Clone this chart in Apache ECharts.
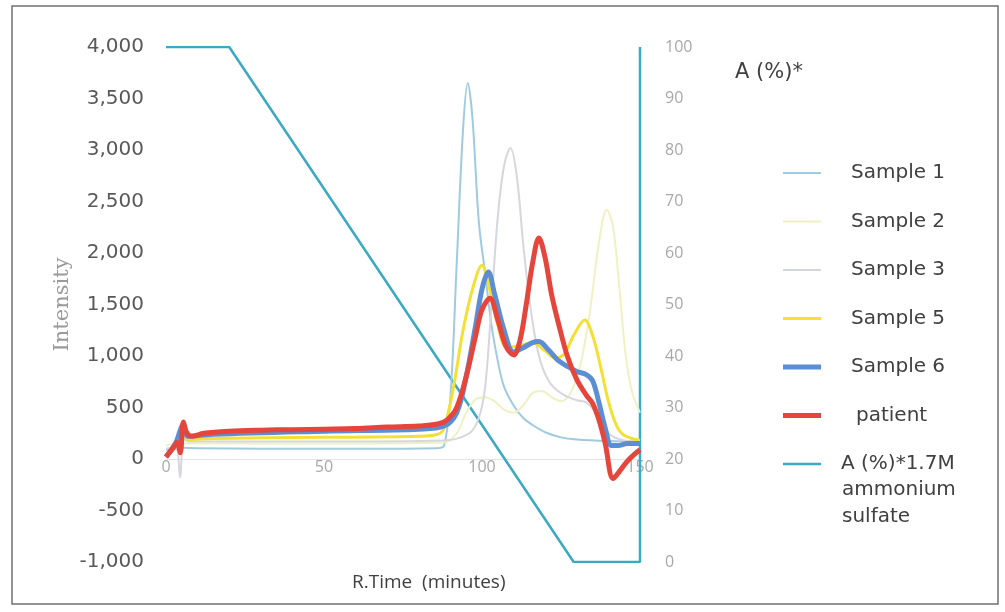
<!DOCTYPE html>
<html><head><meta charset="utf-8">
<script src="https://cdn.jsdelivr.net/npm/echarts@6/dist/echarts.min.js"></script>
<style>html,body{margin:0;padding:0;background:#fff}#c{width:1005px;height:612px}</style>
</head><body><div id="c"></div>
<script>
// ---- data ([time in minutes, value]) ----
const seriesNames = ['Sample 1','Sample 2','Sample 3','Sample 5','Sample 6','patient','A (%)*1.7M ammonium sulfate'];
const yTicksLeft = [-1000, 4000, 500];
const yTicksRight = [0, 100, 10];
const xTicks = [0, 150, 50];

const sample1 = [[0,90],[3,95],[5,110],[10,105],[30,100],[60,100],[86,105],[88,130],[90,600],[92,1900],[94,3200],[95.5,3650],[97,3300],[99,2300],[101,1800],[103,1300],[105,950],[107,700],[110,520],[113,400],[116,330],[120,260],[125,210],[130,190],[140,175],[150,170]];
const sample2 = [[0,130],[5,150],[10,150],[50,150],[88,160],[92,250],[95,450],[98,580],[101,600],[104,560],[107,480],[110,450],[113,520],[116,640],[119,660],[122,600],[125,560],[128,640],[131,900],[134,1400],[137,2100],[139.5,2420],[141.5,2250],[143.5,1650],[145.5,1000],[147.5,650],[150,450]];
const sample3 = [[0,100],[3,120],[4.5,-180],[5.5,200],[7,170],[20,170],[50,170],[88,180],[96,250],[99,400],[101,700],[103,1500],[105,2350],[107,2850],[109,3020],[111,2750],[113,2100],[115,1550],[117,1150],[119,900],[122,720],[126,620],[130,570],[133,550],[136,450],[140,250],[145,180],[150,170]];
const sample5 = [[0,30],[3,120],[5,300],[7,190],[15,200],[50,210],[80,220],[86,240],[88,300],[91,700],[94,1250],[97,1650],[100,1880],[102,1700],[105,1300],[108,1080],[112,1100],[116,1130],[120,1050],[123,980],[126,1020],[129,1200],[132.5,1350],[135,1200],[137.5,900],[140,560],[142.5,330],[145,230],[150,180]];
const sample6 = [[0,20],[3,150],[5.5,330],[7,220],[15,240],[50,270],[80,290],[88,320],[92,450],[95,800],[98,1300],[100,1650],[102,1815],[104,1600],[107,1250],[110,1040],[113,1080],[116,1130],[118,1140],[121,1060],[124,960],[127,900],[130,850],[133,820],[135,760],[137,550],[139,300],[141,130],[143,130],[146,150],[150,150]];
const patient = [[0,20],[2,100],[3.5,160],[4.5,60],[5.5,360],[6.5,260],[8,220],[12,250],[20,270],[30,280],[40,285],[50,290],[60,295],[70,310],[80,320],[86,340],[89,380],[92,500],[95,800],[98,1200],[100,1450],[102.5,1560],[105,1350],[107.5,1100],[110,1010],[112,1150],[114,1500],[116,1900],[118,2145],[120,1950],[122,1600],[124.5,1280],[127,1000],[130,770],[133,620],[135,540],[137,380],[139,150],[141.5,-190],[143.5,-120],[146,-20],[148,40],[150,90]];
const gradientA = [[0,100],[20,100],[129,0],[150,0],[150,100]];

const colors = ['#9fcbe0','#eef2c2','#d6d6de','#f4df34','#5b8ed2','#e5453b','#3aa9c1'];
const widths = [2,2,2,3,5,5,2.5];
const legendPad = [25,25,25,25,25,30,15];

const W = 1005, H = 612;
const grid = {left: 166, right: 365, top: 47, bottom: 50};
const gridH = H - grid.top - grid.bottom;
// put the x axis (line + labels) at the y = 0 level of the left axis
const zeroOffset = gridH * (0 - yTicksLeft[0]) / (yTicksLeft[1] - yTicksLeft[0]);

const chart = echarts.init(document.getElementById('c'));
const dataList = [sample1, sample2, sample3, sample5, sample6, patient];
const series = dataList.map((d, i) => ({
  name: seriesNames[i], type: 'line', data: d, symbol: 'none', smooth: 0.35,
  lineStyle: {color: colors[i], width: widths[i]}, itemStyle: {color: colors[i]}, z: 2 + i
}));
series.push({
  name: seriesNames[6], type: 'line', data: gradientA, yAxisIndex: 1, symbol: 'none',
  lineStyle: {color: colors[6], width: widths[6]}, itemStyle: {color: colors[6]}, z: 1
});

const fontFam = '"DejaVu Sans", sans-serif';
const legendData = seriesNames.map((n, i) => ({
  name: n,
  icon: 'path://M0,0H38V' + Math.max(2, widths[i]) + 'H0Z',
  textStyle: {padding: [0, 0, 0, legendPad[i]]}
}));

chart.setOption({
  animation: false,
  grid: grid,
  xAxis: {
    type: 'value', min: xTicks[0], max: xTicks[1], interval: xTicks[2],
    offset: -zeroOffset,
    axisLine: {onZero: false, lineStyle: {color: '#e3e3e3', width: 1}},
    axisTick: {show: false}, splitLine: {show: false},
    axisLabel: {color: '#a8a8a8', fontSize: 16, fontFamily: '"Open Sans", sans-serif', margin: 0}
  },
  yAxis: [{
    type: 'value', min: yTicksLeft[0], max: yTicksLeft[1], interval: yTicksLeft[2],
    name: 'Intensity', nameLocation: 'middle', nameGap: 93,
    nameTextStyle: {color: '#9a9a9a', fontSize: 21, fontFamily: '"DejaVu Serif", serif'},
    axisLine: {show: false}, axisTick: {show: false}, splitLine: {show: false},
    axisLabel: {color: '#595959', fontSize: 20, fontFamily: fontFam, margin: 22,
      formatter: v => v.toLocaleString('en-US')}
  }, {
    type: 'value', min: yTicksRight[0], max: yTicksRight[1], interval: yTicksRight[2],
    position: 'right',
    axisLine: {show: false}, axisTick: {show: false}, splitLine: {show: false},
    axisLabel: {color: '#a8a8a8', fontSize: 16, fontFamily: '"Open Sans", sans-serif', margin: 25}
  }],
  legend: {
    orient: 'vertical', left: 778, top: 158, itemWidth: 38, itemHeight: 14, itemGap: 28.5,
    textStyle: {color: '#404040', fontSize: 20, fontFamily: fontFam},
    formatter: n => n.startsWith('A (%)') ? 'A (%)*1.7M' : n,
    data: legendData
  },
  graphic: [
    {type: 'rect', shape: {x: 12, y: 6, width: 986, height: 598}, style: {fill: 'none', stroke: '#707070', lineWidth: 1.5}, silent: true},
    {type: 'text', left: 735, top: 62, style: {text: 'A (%)*', fill: '#404040', fontSize: 21, fontFamily: fontFam}},
    {type: 'text', left: 842, top: 476, style: {text: 'ammonium\nsulfate', fill: '#404040', fontSize: 20, lineHeight: 27, fontFamily: fontFam}},
    {type: 'text', left: 352, top: 573, style: {text: 'R.Time  (minutes)', fill: '#404040', fontSize: 19, fontFamily: '"Open Sans", sans-serif'}}
  ],
  series: series
});
</script></body></html>
